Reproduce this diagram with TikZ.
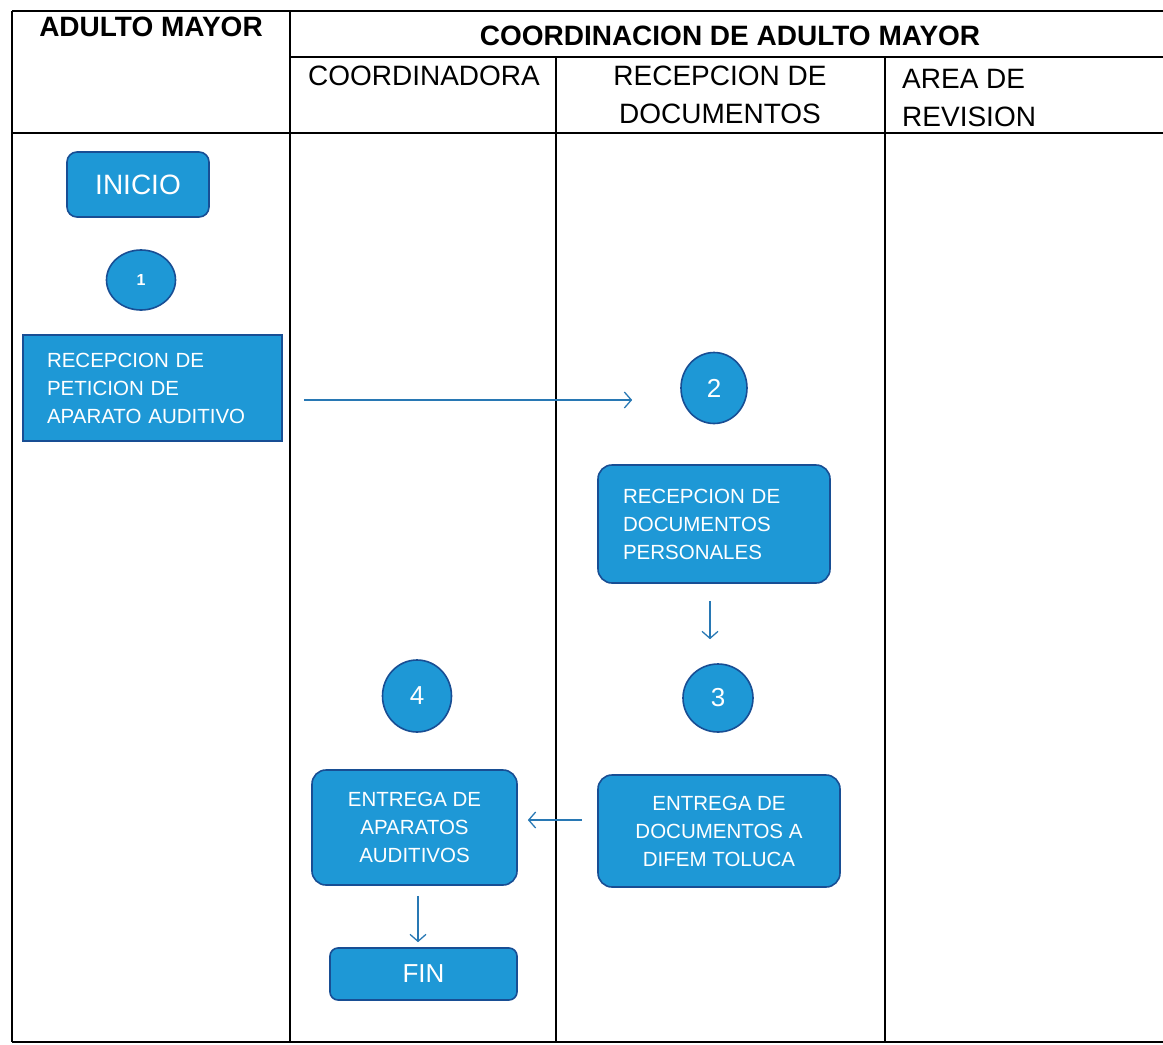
\documentclass[tikz,border=0pt]{standalone}
\usepackage{fontspec}
\setmainfont{Liberation Sans}
\usetikzlibrary{shapes.geometric,arrows.meta}
\definecolor{boxfill}{RGB}{30,152,214}
\definecolor{boxline}{RGB}{24,78,148}
\definecolor{flowline}{RGB}{40,120,180}

\begin{document}
\begin{tikzpicture}[x=1pt,y=-1pt,
  lane/.style={line width=2pt},
  head/.style={font=\bfseries\fontsize{28}{38}\selectfont,inner sep=0pt},
  subhead/.style={font=\fontsize{28}{38}\selectfont,inner sep=0pt},
  stepbox/.style={draw=boxline,fill=boxfill,line width=1.6pt,text=white,inner sep=0pt,font=\fontsize{20.5}{28}\selectfont},
  roundbox/.style={stepbox,rounded corners=14pt},
  num/.style={draw=boxline,fill=boxfill,line width=1.6pt,text=white,ellipse,inner sep=0pt,font=\fontsize{26}{26}\selectfont},
  flow/.style={draw=flowline,line width=1.3pt,-{Straight Barb[length=7pt,width=16pt]}}]
\useasboundingbox (0,0) rectangle (1163,1045);

\draw[lane] (12,11) -- (1163,11)   (290,57) -- (1163,57)   (12,133) -- (1163,133)   (12,1042) -- (1163,1042) ;
\draw[lane] (12,11) -- (12,1042)   (290,11) -- (290,1042)   (556,57) -- (556,1042)   (885,57) -- (885,1042) ;

\draw (151,27) node[head] (actor) {ADULTO MAYOR} ;
\draw (730,36) node[head] (coord) {COORDINACION DE ADULTO MAYOR} ;
\draw (424,76) node[subhead] (coordinadora) {COORDINADORA} ;
\draw (720,95) node[subhead,align=center] (recepcion) {RECEPCION DE\\DOCUMENTOS} ;
\draw (902,97.5) node[subhead,align=left,anchor=west] (revision) {AREA DE\\REVISION} ;

\draw (138,184.5) node[roundbox,rounded corners=10pt,minimum width=142pt,minimum height=65pt,font=\fontsize{28}{34}\selectfont] (inicio) {INICIO} ;
\draw (141,280) node[num,minimum width=69pt,minimum height=60pt,font=\bfseries\fontsize{16}{16}\selectfont] (n1) {1} ;
\draw (152.5,388) node[stepbox,minimum width=259pt,minimum height=106pt,text width=211pt,align=left] (peticion) {RECEPCION DE\\PETICION DE\\APARATO AUDITIVO} ;

\draw (714,388) node[num,minimum width=66pt,minimum height=71pt] (n2) {2} ;
\draw (714,524) node[roundbox,minimum width=232pt,minimum height=118pt,text width=182pt,align=left] (personales) {RECEPCION DE\\DOCUMENTOS\\PERSONALES} ;
\draw (718,698) node[num,minimum width=70pt,minimum height=68pt] (n3) {3} ;
\draw (719,831) node[roundbox,minimum width=242pt,minimum height=112pt,align=center] (difem) {ENTREGA DE\\DOCUMENTOS A\\DIFEM TOLUCA} ;

\draw (417,696) node[num,minimum width=69pt,minimum height=72pt] (n4) {4} ;
\draw (414.5,827.5) node[roundbox,minimum width=205pt,minimum height=115pt,align=center] (aparatos) {ENTREGA DE\\APARATOS\\AUDITIVOS} ;
\draw (423.5,974) node[roundbox,rounded corners=8pt,minimum width=187pt,minimum height=52pt,font=\fontsize{26}{30}\selectfont] (fin) {FIN} ;

\draw[flow,shorten <=21pt,shorten >=48pt] ([yshift=-12pt]peticion.east) -- ([yshift=-12pt]peticion.east -| n2.west) ;
\draw[flow,shorten <=17pt,shorten >=24pt] ([xshift=-4pt]personales.south) -- ([xshift=-4pt]personales.south |- n3.north) ;
\draw[flow,shorten <=15pt,shorten >=10pt] ([yshift=11pt]difem.west) -- ([yshift=11pt]difem.west -| aparatos.east) ;
\draw[flow,shorten <=10pt,shorten >=5pt] ([xshift=3.5pt]aparatos.south) -- ([xshift=3.5pt]aparatos.south |- fin.north) ;

\end{tikzpicture}
\end{document}
